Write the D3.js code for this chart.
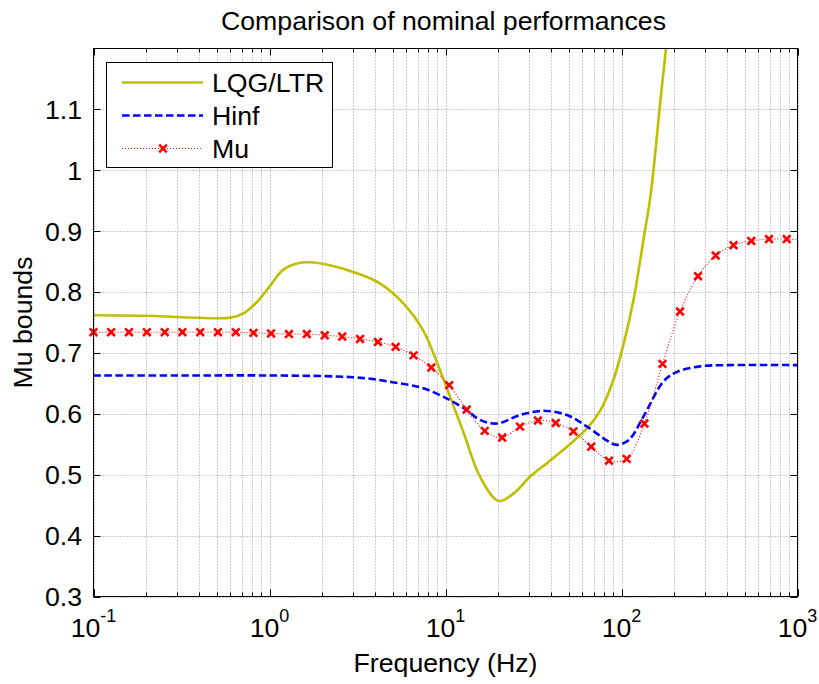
<!DOCTYPE html>
<html>
<head>
<meta charset="utf-8">
<script src="https://cdn.jsdelivr.net/npm/d3@7"></script>
<style>
  body { margin: 0; background: #fff; }
  svg text { font-family: "Liberation Sans", Arial, Helvetica, sans-serif; fill: #000; }
</style>
</head>
<body>
<svg id="chart" width="819" height="684"></svg>
<script>
// LQG/LTR nominal performance (frequency in Hz, mu bound)
const lqgFreq = [0.1, 0.2, 0.3, 0.5, 0.6, 0.72, 0.85, 1.0, 1.19, 1.43, 1.7, 2.2, 3.13, 4.26, 5.78, 7.5, 8.9, 10,
                 12.6, 15.7, 20, 24.3, 30.3, 37.7, 49, 63.7, 76, 90, 103, 117, 134, 145, 152, 165, 179, 200];
const lqgMu   = [0.762, 0.761, 0.759, 0.757, 0.758, 0.766, 0.784, 0.809, 0.836, 0.847, 0.849, 0.844, 0.831, 0.814, 0.781, 0.736, 0.686, 0.648,
                 0.571, 0.497, 0.457, 0.469, 0.497, 0.519, 0.546, 0.576, 0.606, 0.656, 0.716, 0.787, 0.89, 0.951, 1.0, 1.104, 1.2, 1.33];

// H-infinity nominal performance
const hinfFreq = [0.1, 0.3, 1.0, 2.0, 3.0, 3.9, 5.0, 6.6, 7.5, 10.2, 13.2, 15.7, 19.6, 26.5, 36, 49, 63.7, 82.8, 94,
                  110, 133, 173, 207, 280, 400, 1000];
const hinfMu   = [0.663, 0.663, 0.663, 0.662, 0.660, 0.657, 0.652, 0.646, 0.642, 0.625, 0.606, 0.590, 0.584, 0.598, 0.605, 0.598, 0.579, 0.556, 0.549,
                  0.557, 0.595, 0.653, 0.669, 0.678, 0.680, 0.680];

// Mu-synthesis nominal performance (markers at every point below 1000 Hz)
const muFreq = [0.1, 0.126, 0.159, 0.201, 0.254, 0.320, 0.404, 0.509, 0.643, 0.811,
                1.02, 1.29, 1.63, 2.06, 2.59, 3.27, 4.13, 5.21, 6.58, 8.30,
                10.5, 13.2, 16.7, 21.0, 26.5, 33.5, 42.3, 53.3, 67.3, 84.9,
                107, 135, 171, 215, 272, 343, 433, 546, 689, 869, 1000];
const muMu   = [0.734, 0.734, 0.734, 0.734, 0.734, 0.734, 0.734, 0.734, 0.734, 0.733,
                0.732, 0.731, 0.731, 0.729, 0.727, 0.723, 0.718, 0.710, 0.696, 0.676,
                0.647, 0.607, 0.572, 0.561, 0.579, 0.589, 0.585, 0.571, 0.546, 0.523,
                0.526, 0.584, 0.682, 0.768, 0.826, 0.860, 0.877, 0.884, 0.887, 0.887, 0.886];

const xDecades = [-1, 0, 1, 2, 3];
const yTicks = [0.3, 0.4, 0.5, 0.6, 0.7, 0.8, 0.9, 1, 1.1];
const legendLabels = ["LQG/LTR", "Hinf", "Mu"];

const svg = d3.select("#chart");
const plotLeft = 93.5, plotRight = 797.5, plotTop = 48.5, plotBottom = 596.5;
const fontSize = 26.7;

const x = d3.scaleLog().domain([0.1, 1000]).range([plotLeft, plotRight]);
const y = d3.scaleLinear().domain([0.3, 1.2]).range([plotBottom, plotTop]);

// minor tick positions: 2..9 within each decade
const minorTicks = [];
xDecades.slice(0, -1).forEach(d => {
  for (let k = 2; k <= 9; k++) minorTicks.push(k * Math.pow(10, d));
});
const majorTicks = xDecades.map(d => Math.pow(10, d));

// grid
const grid = svg.append("g").attr("stroke", "#9a9a9a").attr("stroke-width", 1).attr("stroke-dasharray", "1,2");
majorTicks.concat(minorTicks).forEach(v => {
  const px = Math.round(x(v)) + 0.5;
  grid.append("line").attr("x1", px).attr("x2", px).attr("y1", plotTop).attr("y2", plotBottom);
});
yTicks.forEach(v => {
  const py = Math.round(y(v)) + 0.5;
  grid.append("line").attr("x1", plotLeft).attr("x2", plotRight).attr("y1", py).attr("y2", py);
});

// clip to plot area
svg.append("defs").append("clipPath").attr("id", "plotClip")
  .append("rect").attr("x", plotLeft).attr("y", plotTop)
  .attr("width", plotRight - plotLeft).attr("height", plotBottom - plotTop);

const plot = svg.append("g").attr("clip-path", "url(#plotClip)");

const lineGen = d3.line().x(d => x(d[0])).y(d => y(d[1])).curve(d3.curveCatmullRom.alpha(0.5));

plot.append("path")
  .datum(lqgFreq.map((f, i) => [f, lqgMu[i]]))
  .attr("d", lineGen)
  .attr("fill", "none").attr("stroke", "#bfbf00").attr("stroke-width", 2.6);

plot.append("path")
  .datum(hinfFreq.map((f, i) => [f, hinfMu[i]]))
  .attr("d", lineGen)
  .attr("fill", "none").attr("stroke", "#0000ff").attr("stroke-width", 2.6)
  .attr("stroke-dasharray", "7.5,3.5");

const muData = muFreq.map((f, i) => [f, muMu[i]]);
plot.append("path")
  .datum(muData)
  .attr("d", lineGen)
  .attr("fill", "none").attr("stroke", "#ff0000").attr("stroke-width", 1.1)
  .attr("stroke-dasharray", "1,2");

const crossPath = s => `M${-s},${-s}L${s},${s}M${-s},${s}L${s},${-s}`;
svg.append("g").selectAll("path")
  .data(muData.filter(d => d[0] < 1000))
  .join("path")
  .attr("transform", d => `translate(${x(d[0])},${y(d[1])})`)
  .attr("d", crossPath(3.8))
  .attr("fill", "none").attr("stroke", "#ff0000").attr("stroke-width", 2.6);

// axes box and ticks
const axes = svg.append("g").attr("stroke", "#000").attr("stroke-width", 1);
axes.append("rect").attr("x", plotLeft).attr("y", plotTop)
  .attr("width", plotRight - plotLeft).attr("height", plotBottom - plotTop)
  .attr("fill", "none");
majorTicks.forEach(v => {
  const px = Math.round(x(v)) + 0.5;
  axes.append("line").attr("x1", px).attr("x2", px).attr("y1", plotBottom).attr("y2", plotBottom - 7);
  axes.append("line").attr("x1", px).attr("x2", px).attr("y1", plotTop).attr("y2", plotTop + 7);
});
minorTicks.forEach(v => {
  const px = Math.round(x(v)) + 0.5;
  axes.append("line").attr("x1", px).attr("x2", px).attr("y1", plotBottom).attr("y2", plotBottom - 4);
  axes.append("line").attr("x1", px).attr("x2", px).attr("y1", plotTop).attr("y2", plotTop + 4);
});
yTicks.forEach(v => {
  const py = Math.round(y(v)) + 0.5;
  axes.append("line").attr("x1", plotLeft).attr("x2", plotLeft + 7).attr("y1", py).attr("y2", py);
  axes.append("line").attr("x1", plotRight).attr("x2", plotRight - 7).attr("y1", py).attr("y2", py);
});

// tick labels
xDecades.forEach(d => {
  const t = svg.append("text").attr("x", x(Math.pow(10, d))).attr("y", 637)
    .attr("text-anchor", "middle").attr("font-size", fontSize);
  t.append("tspan").text("10");
  t.append("tspan").attr("dy", -15).attr("font-size", 18).text(String(d));
});
yTicks.forEach(v => {
  svg.append("text").attr("x", 82).attr("y", y(v)).attr("dy", "0.35em")
    .attr("text-anchor", "end").attr("font-size", fontSize).text(String(v));
});

// titles
svg.append("text").attr("x", (plotLeft + plotRight) / 2 - 2).attr("y", 30).attr("text-anchor", "middle")
  .attr("font-size", fontSize).text("Comparison of nominal performances");
svg.append("text").attr("x", (plotLeft + plotRight) / 2).attr("y", 672).attr("text-anchor", "middle")
  .attr("font-size", fontSize).text("Frequency (Hz)");
svg.append("text").attr("transform", `translate(32,${(plotTop + plotBottom) / 2}) rotate(-90)`)
  .attr("text-anchor", "middle").attr("font-size", fontSize).text("Mu bounds");

// legend
const lg = svg.append("g");
lg.append("rect").attr("x", 106.5).attr("y", 62.5).attr("width", 226).attr("height", 105)
  .attr("fill", "#fff").attr("stroke", "#000").attr("stroke-width", 1);
const rows = [82.5, 115.5, 148.5];
const styles = [
  { stroke: "#bfbf00", width: 2.6, dash: null },
  { stroke: "#0000ff", width: 2.6, dash: "7.5,3.5" },
  { stroke: "#ff0000", width: 1.1, dash: "1,2" }
];
legendLabels.forEach((label, i) => {
  const s = styles[i];
  lg.append("line").attr("x1", 122).attr("x2", 203).attr("y1", rows[i]).attr("y2", rows[i])
    .attr("stroke", s.stroke).attr("stroke-width", s.width).attr("stroke-dasharray", s.dash);
  lg.append("text").attr("x", 212).attr("y", rows[i]).attr("dy", "0.36em").attr("font-size", fontSize).text(label);
});
lg.append("path").attr("transform", `translate(163,${rows[2]})`).attr("d", crossPath(3.8))
  .attr("fill", "none").attr("stroke", "#ff0000").attr("stroke-width", 2.6);
</script>
</body>
</html>
